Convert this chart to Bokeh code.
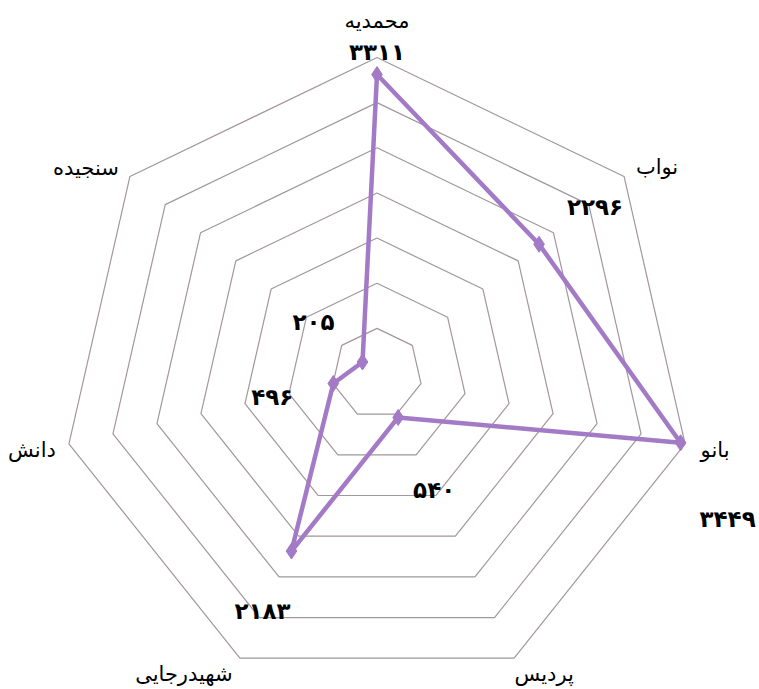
import math
from bokeh.plotting import figure
from bokeh.models import Range1d, ColumnDataSource
from bokeh.core.properties import value
from bokeh.embed import file_html
from bokeh.resources import INLINE

# ---- data ----
categories = ["محمدیه", "نواب", "بانو", "پردیس", "شهیدرجایی", "دانش", "سنجیده"]
values = [3311, 2296, 3449, 540, 2183, 496, 205]
ring_levels = [500, 1000, 1500, 2000, 2500, 3000, 3500]

# ---- style / placement (screen px offsets) ----
cat_dx = [0, 33, 30, 30, -56, -37, -44]
cat_dy = [-37, -9, 6, 16, 16, 6, -8]
val_dx = [0, 56, 47, 36, -29, -61, -49]
val_dy = [-23, -37, 76, 73, 60, 14, -40]

W, H = 759, 689
R_PX = 316.0
R_MAX = ring_levels[-1]
k = R_MAX / R_PX
cx_px, cy_px = 376.5, 373.0

p = figure(width=W, height=H, output_backend="svg", toolbar_location=None,
           x_range=Range1d(-cx_px * k, (W - cx_px) * k),
           y_range=Range1d(-(H - cy_px) * k, cy_px * k),
           min_border=0, outline_line_color=None)
p.axis.visible = False
p.grid.visible = False

n = len(categories)
angles = [math.pi / 2 - i * 2 * math.pi / n for i in range(n)]

# grid rings
for lv in ring_levels:
    xs = [lv * math.cos(a) for a in angles] + [lv * math.cos(angles[0])]
    ys = [lv * math.sin(a) for a in angles] + [lv * math.sin(angles[0])]
    p.line(xs, ys, line_color="#a3969c", line_width=1.2)

# data series
px = [v * math.cos(a) for v, a in zip(values, angles)]
py = [v * math.sin(a) for v, a in zip(values, angles)]
color = "#a27ac6"
p.line(px + [px[0]], py + [py[0]], line_color=color, line_width=4.5, line_join="round")
p.scatter(px, py, marker="diamond", size=16, fill_color=color, line_color=color)

# value labels
fa_digits = str.maketrans("0123456789", "۰۱۲۳۴۵۶۷۸۹")
val_src = ColumnDataSource(dict(x=px, y=py, t=[str(v).translate(fa_digits) for v in values],
                                dx=val_dx, dy=val_dy))
p.text(x="x", y="y", text="t", x_offset="dx", y_offset="dy", source=val_src,
       text_font=value("DejaVu Sans"), text_font_style="bold", text_font_size="23px",
       text_align="center", text_baseline="middle", text_color="#000000")

# category labels
ox = [R_MAX * math.cos(a) for a in angles]
oy = [R_MAX * math.sin(a) for a in angles]
cat_src = ColumnDataSource(dict(x=ox, y=oy, t=categories, dx=cat_dx, dy=cat_dy))
p.text(x="x", y="y", text="t", x_offset="dx", y_offset="dy", source=cat_src,
       text_font=value("DejaVu Sans"), text_font_size="21px",
       text_align="center", text_baseline="middle", text_color="#000000")

open("out.html", "w").write(file_html(p, INLINE))
